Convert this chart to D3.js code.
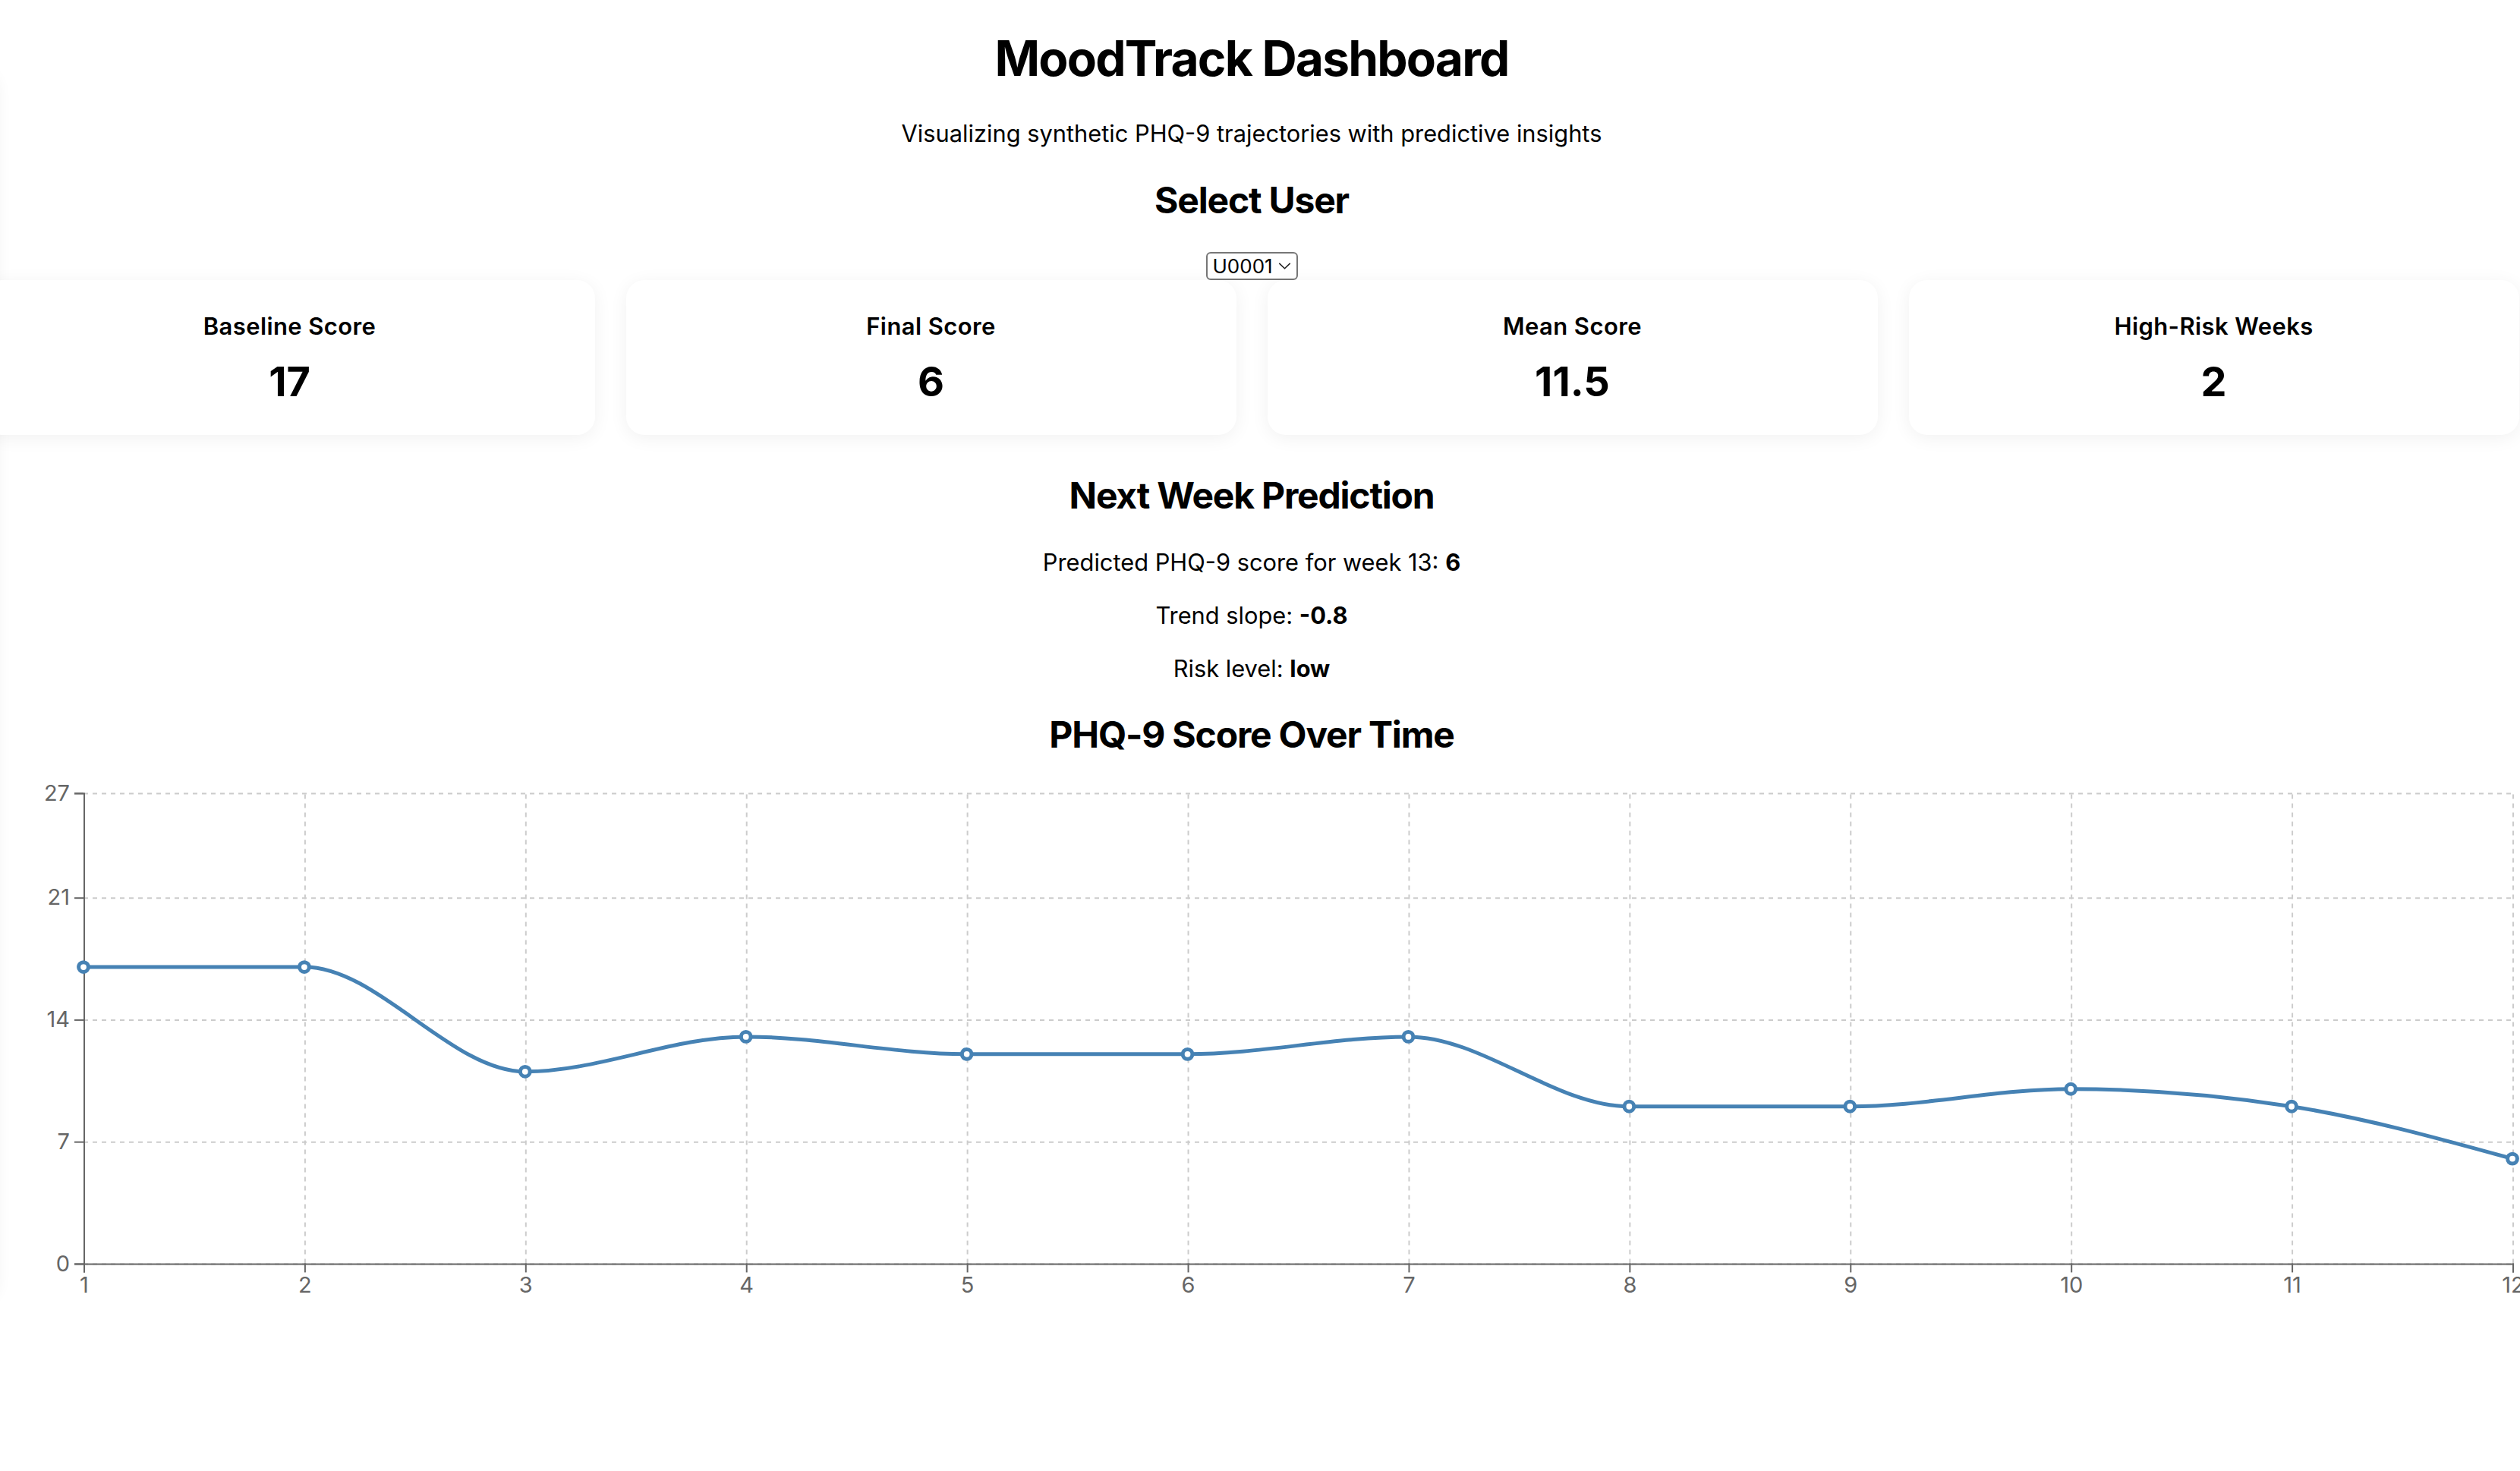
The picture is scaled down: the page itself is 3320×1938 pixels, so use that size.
<!DOCTYPE html>
<html lang="en">

<head>
    <title>MoodTrack Dashboard</title>
    <meta charset="utf-8">
    <script src="https://d3js.org/d3.v7.min.js"></script>
    <style>
        html {
            zoom: 2;
        }

        body {
            margin: 0;
            font-family: Inter, "Noto Sans", sans-serif;
            color: #000;
            background: #fff;
            overflow: hidden;
        }

        /* off-canvas panel, only its shadow peeks in at the left edge */
        .side {
            position: absolute;
            left: -320px;
            top: 45px;
            width: 320px;
            height: 814px;
            border-radius: 16px;
            background: #fff;
            box-shadow: 0 0 9px rgba(0, 0, 0, 0.045);
        }

        .wrap {
            position: relative;
            width: 1649px;
            text-align: center;
        }

        h1 {
            margin: 18.4px 0 0;
            font-size: 32px;
            line-height: 40px;
            font-weight: 700;
            letter-spacing: -0.9px;
        }

        .subtitle {
            margin: 19.4px 0 0;
            font-size: 15.4px;
            line-height: 20px;
        }

        h2 {
            font-size: 24px;
            line-height: 30px;
            font-weight: 700;
            letter-spacing: -0.6px;
        }

        #selTitle {
            margin: 19px 0 0;
        }

        select {
            display: block;
            margin: 19.2px auto 0;
            width: 60.5px;
            height: 18.4px;
            box-sizing: border-box;
            padding: 0 0 0 3.5px;
            border: 1px solid #767676;
            border-radius: 3px;
            font-family: Inter, sans-serif;
            font-size: 13px;
            color: #000;
            text-align: left;
            appearance: none;
            -webkit-appearance: none;
            background: #fff url("data:image/svg+xml;utf8,<svg xmlns='http://www.w3.org/2000/svg' width='9' height='5' viewBox='0 0 9 5'><polyline points='0.5,0.5 4.5,4.3 8.5,0.5' fill='none' stroke='%23222' stroke-width='0.9'/></svg>") no-repeat right 3.5px center / 8.5px 4.5px;
        }

        .cards {
            display: flex;
            justify-content: center;
            gap: 20.5px;
            margin-top: 0;
        }

        .card {
            flex: 0 0 402px;
            height: 102px;
            box-sizing: border-box;
            padding-top: 21.8px;
            background: #fff;
            border-radius: 12px;
            box-shadow: 0 2px 12px rgba(0, 0, 0, 0.06);
        }

        .card .label {
            font-size: 15.5px;
            line-height: 18px;
            font-weight: 600;
            letter-spacing: 0.2px;
        }

        .card .value {
            margin-top: 10.3px;
            font-size: 27px;
            line-height: 34px;
            font-weight: 700;
        }

        #predTitle {
            margin: 25.1px 0 0;
        }

        .pred p {
            margin: 15px 0 0;
            font-size: 15.4px;
            line-height: 20px;
        }

        .pred p:first-child {
            margin-top: 19px;
        }

        #chartTitle {
            margin: 18.3px 0 0;
        }

        #chart svg {
            display: block;
        }
    </style>
</head>

<body>
    <div class="side"></div>
    <div class="wrap">
        <h1>MoodTrack Dashboard</h1>
        <p class="subtitle">Visualizing synthetic PHQ-9 trajectories with predictive insights</p>
        <h2 id="selTitle">Select User</h2>
        <select id="user"></select>
        <div class="cards" id="cards"></div>
        <h2 id="predTitle">Next Week Prediction</h2>
        <div class="pred" id="pred"></div>
        <h2 id="chartTitle">PHQ-9 Score Over Time</h2>
    </div>
    <div id="chart"></div>

    <script>
        // data for user U0001
        const users = ["U0001"];
        const weeks = [1, 2, 3, 4, 5, 6, 7, 8, 9, 10, 11, 12];
        const scores = [17, 17, 11, 13, 12, 12, 13, 9, 9, 10, 9, 6];
        const yTicks = [0, 7, 14, 21, 27];
        const statLabels = ["Baseline Score", "Final Score", "Mean Score", "High-Risk Weeks"];
        const highRiskCut = 15;

        // user dropdown
        d3.select("#user").selectAll("option")
            .data(users)
            .join("option")
            .text(d => d);

        // summary numbers
        const statValues = [
            scores[0],
            scores[scores.length - 1],
            Math.round(d3.mean(scores) * 10) / 10,
            scores.filter(s => s >= highRiskCut).length
        ];

        const card = d3.select("#cards").selectAll(".card")
            .data(statLabels)
            .join("div")
            .attr("class", "card");
        card.append("div").attr("class", "label").text(d => d);
        card.append("div").attr("class", "value").text((d, i) => statValues[i]);

        // simple linear trend for next week
        const mx = d3.mean(weeks), my = d3.mean(scores);
        const slope = d3.sum(weeks, (w, i) => (w - mx) * (scores[i] - my)) /
            d3.sum(weeks, w => (w - mx) * (w - mx));
        const nextWeek = weeks[weeks.length - 1] + 1;
        const predicted = Math.round(my + slope * (nextWeek - mx));
        const risk = predicted >= 15 ? "high" : predicted >= 10 ? "moderate" : "low";

        const predRows = [
            ["Predicted PHQ-9 score for week " + nextWeek + ": ", predicted],
            ["Trend slope: ", slope.toFixed(1)],
            ["Risk level: ", risk]
        ];
        const p = d3.select("#pred").selectAll("p")
            .data(predRows)
            .join("p");
        p.append("span").text(d => d[0]);
        p.append("strong").text(d => d[1]);

        // set the dimensions and margins of the graph
        const margin = {
                top: 23.2,
                right: 5,
                bottom: 40,
                left: 55
            },
            width = 1660 - margin.left - margin.right,
            height = 310;

        const svg = d3.select("#chart")
            .append("svg")
            .attr("width", width + margin.left + margin.right)
            .attr("height", height + margin.top + margin.bottom)
            .append("g")
            .attr("transform", `translate(${margin.left},${margin.top})`);

        const x = d3.scaleLinear().domain([1, 12]).range([0, width]);
        const y = d3.scaleLinear().domain([0, 27]).range([height, 0]);

        // grid lines
        const xGrid = svg.append("g")
            .attr("transform", `translate(0, ${height})`)
            .call(d3.axisBottom(x).tickValues(weeks).tickSize(-height).tickFormat(""));
        const yGrid = svg.append("g")
            .call(d3.axisLeft(y).tickValues(yTicks).tickSize(-width).tickFormat(""));
        [xGrid, yGrid].forEach(g => {
            g.select(".domain").remove();
            g.selectAll("line")
                .attr("stroke", "#ccc")
                .attr("stroke-dasharray", "3,3");
        });

        // axes
        const xAxis = svg.append("g")
            .attr("transform", `translate(0, ${height})`)
            .call(d3.axisBottom(x).tickValues(weeks).tickFormat(d3.format("d")));
        const yAxis = svg.append("g")
            .call(d3.axisLeft(y).tickValues(yTicks));
        [xAxis, yAxis].forEach(g => {
            g.attr("font-size", 14.5).attr("font-family", "Inter, sans-serif");
            g.selectAll("path, line").attr("stroke", "#666");
            g.selectAll("text").attr("fill", "#666");
        });

        // score line
        svg.append("path")
            .datum(scores)
            .attr("fill", "none")
            .attr("stroke", "steelblue")
            .attr("stroke-width", 2.5)
            .attr("d", d3.line()
                .curve(d3.curveMonotoneX)
                .x((d, i) => x(weeks[i]))
                .y(d => y(d)));

        svg.selectAll(".dot")
            .data(scores)
            .join("circle")
            .attr("class", "dot")
            .attr("cx", (d, i) => x(weeks[i]))
            .attr("cy", d => y(d))
            .attr("r", 3.2)
            .attr("fill", "#fff")
            .attr("stroke", "steelblue")
            .attr("stroke-width", 2.5);
    </script>
</body>

</html>
